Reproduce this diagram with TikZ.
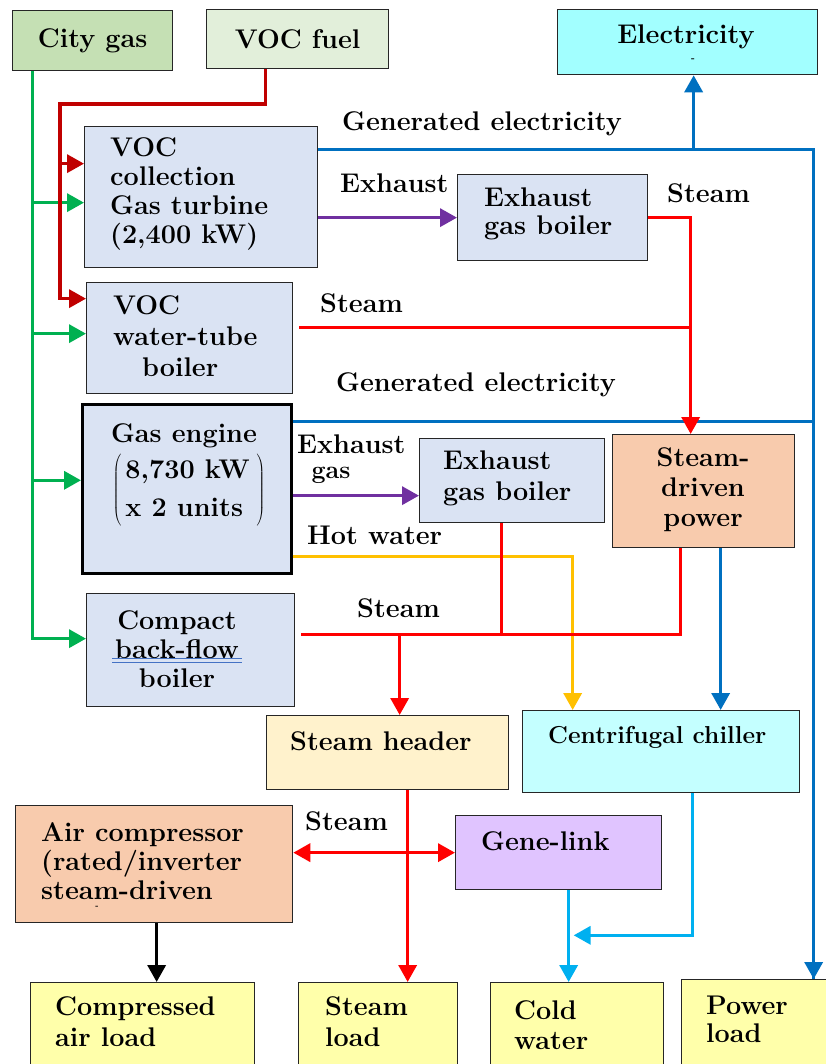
\documentclass[tikz,border=0pt]{standalone}
\usepackage{fontspec}
\usetikzlibrary{arrows.meta,calc}

% line colours
\definecolor{cgreen}{HTML}{00B050}
\definecolor{dred}{HTML}{C00000}
\definecolor{sred}{HTML}{FF0000}
\definecolor{eblue}{HTML}{0070C0}
\definecolor{epurple}{HTML}{7030A0}
\definecolor{hyellow}{HTML}{FFC000}
\definecolor{cblue}{HTML}{00B0F0}
\definecolor{ulblue}{HTML}{4472C4}
% fill colours
\definecolor{cgfill}{HTML}{C5E0B4}
\definecolor{vocfill}{HTML}{E2EFDA}
\definecolor{elfill}{HTML}{A2FFFF}
\definecolor{unitfill}{HTML}{DAE3F3}
\definecolor{orfill}{HTML}{F8CBAD}
\definecolor{hdrfill}{HTML}{FFF2CC}
\definecolor{chfill}{HTML}{C4FFFF}
\definecolor{glfill}{HTML}{E0C4FF}
\definecolor{loadfill}{HTML}{FFFFAA}
\definecolor{boxline}{HTML}{262626}

\newcommand\lbfont{\fontsize{27}{30}\selectfont\bfseries}
\newcommand\lbsized[1]{\fontsize{27}{#1}\selectfont\bfseries}

\begin{document}
\begin{tikzpicture}[x=1pt,y=-1pt,font=\lbfont,
  box/.style={draw=boxline,line width=1.3pt,inner sep=0pt,anchor=north west},
  lbl/.style={inner sep=0pt,align=left,anchor=west},
  tip/.style={-{Triangle[length=17pt,width=18pt]}},
  flow/.style={line width=3.5pt},
  gline/.style={flow,draw=cgreen,tip},
  vline/.style={flow,draw=dred,tip},
  eline/.style={flow,draw=eblue},
  pline/.style={flow,draw=epurple,tip},
  rline/.style={flow,draw=sred},
  yline/.style={flow,draw=hyellow,tip},
  lbline/.style={flow,draw=cblue,tip},
  kline/.style={flow,draw=black,tip}]

\useasboundingbox (0,0) rectangle (826,1064);
\clip (0,0) rectangle (826,1064);

% ---------- boxes ----------
\node[box,fill=cgfill,minimum width=160pt,minimum height=60pt] (cg) at (12,10) {City gas};
\node[box,fill=vocfill,minimum width=182pt,minimum height=59pt] (voc) at (206,9) {VOC fuel};
\node[box,fill=elfill,minimum width=260pt,minimum height=65pt] (elec) at (557,9) {};
\node[box,fill=unitfill,minimum width=233pt,minimum height=141pt] (gt) at (84,126) {};
\node[box,fill=unitfill,minimum width=190pt,minimum height=86pt] (egb1) at (457,174) {};
\node[box,fill=unitfill,minimum width=206pt,minimum height=111pt] (wtb) at (86,282) {};
\node[box,fill=unitfill,line width=2.6pt,draw=black,minimum width=209pt,minimum height=169pt] (ge) at (81,403) {};
\node[box,fill=unitfill,minimum width=185pt,minimum height=84pt] (egb2) at (419,438) {};
\node[box,fill=orfill,minimum width=182pt,minimum height=113pt] (sdp) at (612,434) {};
\node[box,fill=unitfill,minimum width=208pt,minimum height=113pt] (cbb) at (86,593) {};
\node[box,fill=hdrfill,minimum width=242pt,minimum height=74pt] (sh) at (266,715) {};
\node[box,fill=chfill,minimum width=277pt,minimum height=82pt] (cc) at (522,710) {};
\node[box,fill=orfill,minimum width=277pt,minimum height=117pt] (ac) at (15,805) {};
\node[box,fill=glfill,minimum width=206pt,minimum height=74pt] (gl) at (455,815) {};
\node[box,fill=loadfill,minimum width=224pt,minimum height=100pt] (cal) at (30,982) {};
\node[box,fill=loadfill,minimum width=159pt,minimum height=100pt] (sl) at (298,982) {};
\node[box,fill=loadfill,minimum width=173pt,minimum height=100pt] (cw) at (490,982) {};
\node[box,fill=loadfill,minimum width=160pt,minimum height=100pt] (pl) at (681,979) {};

% ---------- connection points ----------
\coordinate (gsrc)  at ([xshift=-60pt]cg.south);
\coordinate (gtg)   at ([yshift=-5.5pt]gt.west);
\coordinate (wtbg)  at ([yshift=4.5pt]wtb.west);
\coordinate (geg)   at ([yshift=8.5pt]ge.west);
\coordinate (cbbg)  at ([yshift=11.5pt]cbb.west);
\coordinate (vsrc)  at ([xshift=-32pt]voc.south);
\coordinate (vbend) at ([xshift=-24pt,yshift=22pt]gt.north west);
\coordinate (gtv)   at ([yshift=33.5pt]gt.west);
\coordinate (wtbv)  at ([yshift=39.5pt]wtb.west);
\coordinate (e1)    at ([yshift=47.5pt]gt.east);
\coordinate (e2)    at ([yshift=67.5pt]ge.east);
\coordinate (pln)   at ([xshift=52pt]pl.north);
\coordinate (eup)   at ([xshift=6pt]elec.south);
\coordinate (x2)    at ([yshift=-15pt]egb2.west);
\coordinate (sdpin) at ([xshift=-13pt]sdp.north);
\coordinate (w1)    at ([xshift=6pt,yshift=10.5pt]wtb.east);
\coordinate (c1)    at ([xshift=6pt,yshift=15.5pt]cbb.east);
\coordinate (sdpout) at ([xshift=-23pt]sdp.south);
\coordinate (sdpel) at ([xshift=17pt]sdp.south);
\coordinate (eb2out) at ([xshift=-10.5pt]egb2.south);
\coordinate (shin)  at ([xshift=12pt]sh.north);
\coordinate (shout) at ([xshift=20pt]sh.south);
\coordinate (hw)    at ([yshift=-67.5pt]ge.east);
\coordinate (cchw)  at ([xshift=-88.5pt]cc.north);
\coordinate (glout) at ([xshift=10pt]gl.south);
\coordinate (ccout) at ([xshift=31.5pt]cc.south);
\coordinate (cj)    at ([xshift=15pt,yshift=-45pt]gl.south);
\coordinate (acout) at ([xshift=2.5pt]ac.south);

% ---------- city gas ----------
\draw[gline] (gsrc) |- (cbbg);
\draw[gline] (gsrc |- gtg) -- (gtg);
\draw[gline] (gsrc |- wtbg) -- (wtbg);
\draw[gline] (gsrc |- geg) -- (geg);

% ---------- VOC fuel ----------
\draw[vline] (vsrc) |- (vbend) |- (wtbv);
\draw[vline] (vbend |- gtv) -- (gtv);

% ---------- electricity ----------
\draw[eline] (e1) -| (pln);
\draw[eline,tip] (pln |- e1) -- (pln);
\draw[eline,tip] (eup |- e1) -- (eup);
\draw[eline] (e2) -- (pln |- e2);
\draw[eline,tip] (sdpel) -- (sdpel |- cc.north);

% ---------- exhaust gas ----------
\draw[pline] (gt.east |- egb1.west) -- (egb1.west);
\draw[pline] (ge.east |- x2) -- (x2);

% ---------- hot water ----------
\draw[yline] (hw) -| (cchw);

% ---------- steam ----------
\draw[rline,tip] (egb1.east) -| (sdpin);
\draw[rline] (w1) -- (sdpin |- w1);
\draw[rline] (c1) -| (sdpout);
\draw[rline] (eb2out) -- (eb2out |- c1);
\draw[rline,tip] (shin |- c1) -- (shin);
\draw[rline,tip] (shout) -- (shout |- sl.north);
\draw[rline,{Triangle[length=17pt,width=18pt]}-{Triangle[length=17pt,width=18pt]}] (ac.east |- gl.west) -- (gl.west);

% ---------- cold water ----------
\draw[lbline] (glout) -- (glout |- cw.north);
\draw[lbline] (ccout) |- (cj);

% ---------- compressed air ----------
\draw[kline] (acout) -- (acout |- cal.north);

% ---------- box texts ----------
\node[inner sep=0pt] (elect) at (686,37) {Electricity};
\node[inner sep=0pt,font=\fontsize{10}{10}\selectfont\bfseries] (eldash) at (693,60) {-};
\node[lbl,font=\lbsized{29}] (gtt) at (110,194) {VOC\\collection\\Gas turbine\\(2,400 kW)};
\node[lbl,font=\lbsized{28}] (egb1t) at (484,214) {Exhaust\\gas boiler};
\node[lbl,font=\lbsized{31}] (wtbt) at (113,336) {VOC\\water-tube\\\hspace{29pt}boiler};
\node[inner sep=0pt] (get) at (184,436) {Gas engine};
\node[inner sep=0pt] (getu) at (189,490) {\renewcommand\arraystretch{1.25}$\left(\,\begin{tabular}{@{}l@{}}8,730 kW\\x 2 units\end{tabular}\;\right)$};
\node[lbl,font=\lbsized{31}] (egb2t) at (443,478) {Exhaust\\gas boiler};
\node[inner sep=0pt,align=center] (sdpt) at (703,490) {Steam-\\driven\\power};
\node[inner sep=0pt,align=center,font=\lbsized{29}] (cbbt) at (177,649) {Compact\\back-flow\\boiler};
\draw[ulblue,line width=0.9pt] (112,658) -- (242,658) (112,662) -- (242,662);
\node[lbl] (sht) at (290,741) {Steam header};
\node[lbl,font=\fontsize{24.5}{28}\selectfont\bfseries] (cct) at (548,737) {Centrifugal chiller};
\node[lbl,font=\lbsized{29}] (act) at (41,861) {Air compressor\\(rated/inverter\\steam-driven};
\node[inner sep=0pt,font=\fontsize{8}{8}\selectfont\bfseries] (acdot) at (97,907) {-};
\node[lbl] (glt) at (481,841) {Gene-link};
\node[lbl,font=\lbsized{31}] (calt) at (55,1022) {Compressed\\air load};
\node[lbl,font=\lbsized{31}] (slt) at (325,1022) {Steam\\load};
\node[lbl] (cwt) at (514,1025) {Cold\\water};
\node[lbl,font=\lbsized{28}] (plt) at (706,1019) {Power\\load};

% ---------- flow labels ----------
\node[lbl] (lge1) at (342,124) {Generated electricity};
\node[lbl] (lex1) at (340,183) {Exhaust};
\node[lbl] (lst1) at (667,193) {Steam};
\node[lbl] (lst2) at (320,303) {Steam};
\node[lbl] (lge2) at (336,385) {Generated electricity};
\node[lbl] (lex2) at (297,444) {Exhaust};
\node[inner sep=0pt,font=\fontsize{25}{26}\selectfont\bfseries] (lgas) at (331,475) {gas};
\node[lbl] (lhw) at (307,535) {Hot water};
\node[lbl] (lst3) at (357,608) {Steam};
\node[lbl] (lst4) at (305,821) {Steam};
\end{tikzpicture}
\end{document}
